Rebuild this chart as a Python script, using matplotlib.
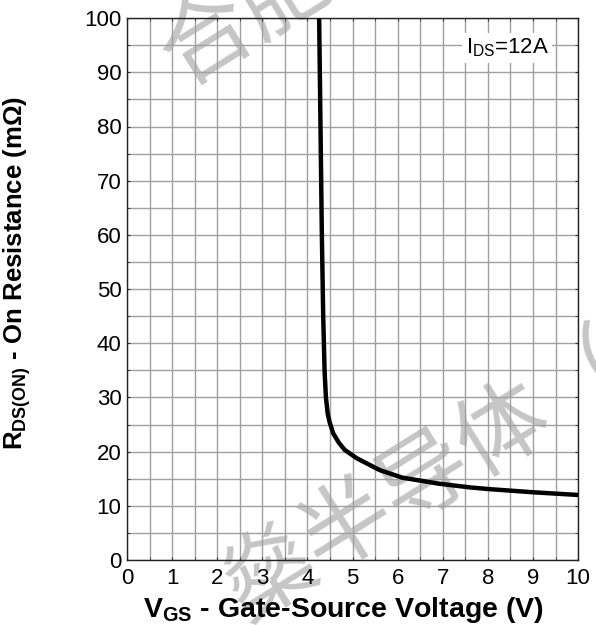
import matplotlib
matplotlib.use("Agg")
import matplotlib.pyplot as plt
from matplotlib.ticker import MultipleLocator

plt.rcParams['font.family'] = ['Liberation Sans', 'Noto Sans CJK SC', 'DejaVu Sans']
plt.rcParams['mathtext.fontset'] = 'custom'
plt.rcParams['mathtext.rm'] = 'Liberation Sans'
plt.rcParams['mathtext.bf'] = 'Liberation Sans:weight=bold'

# Rds(on) vs Vgs, Ids = 12A
vgs = [4.26, 4.29, 4.32, 4.35, 4.38, 4.41, 4.45, 4.49, 4.57, 4.7, 4.83, 5.09, 5.6, 6.1, 6.9, 7.6, 8.0, 9.0, 10.0]
rds = [100, 80, 60, 45, 35, 30, 27, 25.5, 23.4, 21.6, 20.3, 18.8, 16.6, 15.2, 14.1, 13.4, 13.1, 12.5, 12.0]

fig = plt.figure(figsize=(5.96, 6.25), dpi=100)
ax = fig.add_axes([0.213, 0.104, 0.757, 0.867])
ax.patch.set_visible(False)  # let the watermark show under the grid

ax.plot(vgs, rds, color='black', lw=3.2, solid_capstyle='butt', zorder=3)

ax.set_xlim(0, 10)
ax.set_ylim(0, 100)
ax.xaxis.set_major_locator(MultipleLocator(1))
ax.xaxis.set_minor_locator(MultipleLocator(0.5))
ax.yaxis.set_major_locator(MultipleLocator(10))
ax.yaxis.set_minor_locator(MultipleLocator(5))
ax.grid(which='both', color='#a0a0a0', lw=1.0)
ax.set_axisbelow(True)
ax.tick_params(which='both', direction='in', length=2, labelsize=16, color='#333333',
               top=True, right=True)
ax.tick_params(axis='x', pad=6)
ax.tick_params(axis='y', pad=4)
for s in ax.spines.values():
    s.set_color('#222222')
    s.set_linewidth(1.0)

ax.set_xlabel(r'$\mathbf{V_{GS}}$ - Gate-Source Voltage (V)', fontsize=20.5, fontweight='bold')
ax.set_ylabel(r'$\mathbf{R_{DS(ON)}}$ - On Resistance (m$\mathbf{\Omega}$)', fontsize=18.5,
              fontweight='bold')
ax.xaxis.set_label_coords(0.481, -0.064)
ax.yaxis.set_label_coords(-0.208, 0.53)

ax.text(0.935, 0.945, r'$\mathrm{I_{DS}}$=12A', transform=ax.transAxes, fontsize=16,
        ha='right', va='center', zorder=4,
        bbox=dict(facecolor='white', edgecolor='none', pad=2.5))

# watermark, drawn underneath the axes
wm = dict(color='#c6c6c6', fontsize=66, rotation=32, rotation_mode='anchor',
          ha='left', va='center', family=['Noto Sans CJK SC', 'DejaVu Sans'], zorder=-1)
fig.text(0.282, 0.895, '合肥', **wm)
fig.text(0.389, 0.040, '燊半导体（', **wm)

fig.savefig('out.png', dpi=100)
